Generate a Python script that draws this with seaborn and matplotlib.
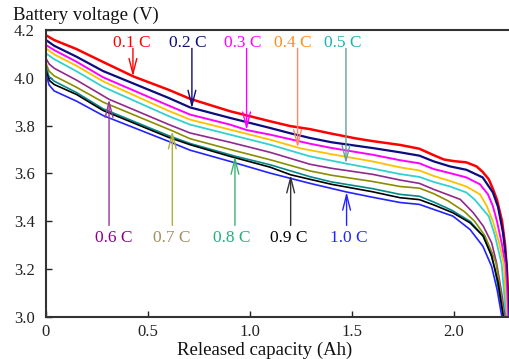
import matplotlib
matplotlib.use("Agg")
import matplotlib.pyplot as plt
import seaborn as sns
import pandas as pd

# ---------------- data ----------------
rates = ["0.1 C", "0.2 C", "0.3 C", "0.4 C", "0.5 C",
         "0.6 C", "0.7 C", "0.8 C", "0.9 C", "1.0 C"]

cap_01 = [0, 0.04, 0.15, 0.28, 0.43, 0.6, 0.706, 0.902, 1.098, 1.196, 1.294, 1.4, 1.52, 1.6,
          1.735, 1.83, 1.9, 1.95, 2.0, 2.06, 2.11, 2.14, 2.17, 2.19, 2.21, 2.235, 2.25, 2.26,
          2.265, 2.268]
v_01 = [4.178, 4.158, 4.12, 4.066, 4.005, 3.950, 3.912, 3.860, 3.818, 3.798, 3.785, 3.766, 3.746,
        3.735, 3.719, 3.703, 3.676, 3.658, 3.651, 3.646, 3.629, 3.606, 3.575, 3.535, 3.49, 3.40,
        3.30, 3.18, 3.08, 3.0]

cap_02 = [0, 0.04, 0.15, 0.28, 0.6, 0.706, 0.902, 1.098, 1.196, 1.294, 1.4, 1.6, 1.735, 1.83,
          1.9, 1.98, 2.06, 2.14, 2.19, 2.215, 2.24, 2.257, 2.262, 2.265]
v_02 = [4.158, 4.134, 4.088, 4.028, 3.916, 3.876, 3.832, 3.790, 3.768, 3.748, 3.730, 3.706,
        3.688, 3.674, 3.650, 3.629, 3.615, 3.583, 3.52, 3.46, 3.35, 3.22, 3.10, 3.0]

cap_03 = [0, 0.04, 0.15, 0.28, 0.6, 0.706, 0.902, 0.985, 1.098, 1.294, 1.4, 1.6, 1.735, 1.83,
          1.9, 1.98, 2.06, 2.127, 2.166, 2.19, 2.21, 2.235, 2.25, 2.258, 2.262]
v_03 = [4.137, 4.116, 4.067, 4.002, 3.884, 3.846, 3.804, 3.781, 3.762, 3.724, 3.706, 3.678,
        3.655, 3.642, 3.618, 3.601, 3.583, 3.554, 3.512, 3.463, 3.40, 3.30, 3.22, 3.10, 3.0]

cap_04 = [0, 0.04, 0.15, 0.28, 0.6, 0.706, 0.902, 1.098, 1.25, 1.4, 1.6, 1.735, 1.83, 1.9,
          1.98, 2.06, 2.127, 2.16, 2.19, 2.22, 2.244, 2.252, 2.257]
v_04 = [4.123, 4.098, 4.05, 3.985, 3.862, 3.825, 3.783, 3.741, 3.704, 3.680, 3.650, 3.625,
        3.612, 3.589, 3.568, 3.545, 3.512, 3.463, 3.40, 3.31, 3.22, 3.10, 3.0]

cap_05 = [0, 0.04, 0.15, 0.28, 0.6, 0.706, 0.902, 1.098, 1.294, 1.47, 1.6, 1.735, 1.83, 1.9,
          1.98, 2.06, 2.10, 2.17, 2.2, 2.233, 2.245, 2.254]
v_05 = [4.102, 4.078, 4.027, 3.962, 3.840, 3.804, 3.762, 3.720, 3.671, 3.641, 3.620, 3.597,
        3.585, 3.564, 3.545, 3.52, 3.491, 3.42, 3.34, 3.22, 3.10, 3.0]

cap_06 = [0, 0.015, 0.04, 0.15, 0.309, 0.6, 0.706, 0.902, 1.098, 1.294, 1.4, 1.6, 1.735, 1.83,
          1.9, 2.03, 2.094, 2.143, 2.184, 2.208, 2.233, 2.249]
v_06 = [4.081, 4.058, 4.040, 3.990, 3.910, 3.805, 3.769, 3.730, 3.688, 3.638, 3.621, 3.596,
        3.572, 3.558, 3.533, 3.491, 3.435, 3.379, 3.309, 3.225, 3.099, 3.0]

cap_07 = [0, 0.015, 0.04, 0.15, 0.28, 0.619, 0.706, 0.902, 1.098, 1.294, 1.4, 1.6, 1.735, 1.83,
          1.9, 1.97, 2.05, 2.1, 2.15, 2.185, 2.205, 2.225, 2.244]
v_07 = [4.06, 4.028, 4.008, 3.960, 3.898, 3.778, 3.745, 3.700, 3.657, 3.610, 3.592, 3.566,
        3.545, 3.538, 3.515, 3.485, 3.44, 3.40, 3.34, 3.27, 3.225, 3.12, 3.0]

cap_08 = [0, 0.015, 0.04, 0.15, 0.28, 0.6, 0.706, 0.926, 1.098, 1.294, 1.4, 1.6, 1.735, 1.83,
          1.9, 1.99, 2.08, 2.14, 2.18, 2.2, 2.22, 2.24]
v_08 = [4.046, 4.005, 3.986, 3.938, 3.870, 3.758, 3.725, 3.672, 3.636, 3.586, 3.564, 3.536,
        3.512, 3.504, 3.480, 3.445, 3.398, 3.34, 3.265, 3.20, 3.10, 3.0]

cap_09 = [0, 0.015, 0.04, 0.15, 0.28, 0.6, 0.706, 0.902, 1.098, 1.199, 1.294, 1.4, 1.6, 1.735,
          1.83, 1.9, 1.994, 2.078, 2.143, 2.184, 2.216, 2.241]
v_09 = [4.031, 3.990, 3.972, 3.930, 3.863, 3.751, 3.720, 3.671, 3.626, 3.594, 3.575, 3.554,
        3.523, 3.498, 3.490, 3.468, 3.435, 3.393, 3.337, 3.253, 3.141, 3.0]

cap_10 = [0, 0.015, 0.04, 0.15, 0.28, 0.6, 0.706, 0.902, 1.098, 1.294, 1.473, 1.6, 1.735, 1.83,
          1.9, 1.994, 2.078, 2.141, 2.184, 2.211, 2.234]
v_10 = [4.017, 3.970, 3.945, 3.902, 3.842, 3.734, 3.697, 3.650, 3.601, 3.558, 3.522, 3.500,
        3.478, 3.470, 3.449, 3.421, 3.365, 3.295, 3.21, 3.112, 3.0]

caps = [cap_01, cap_02, cap_03, cap_04, cap_05, cap_06, cap_07, cap_08, cap_09, cap_10]
volts = [v_01, v_02, v_03, v_04, v_05, v_06, v_07, v_08, v_09, v_10]

# arrow tips on the curves (capacity, voltage)
tip_cap = [0.426, 0.715, 0.983, 1.233, 1.47, 0.309, 0.619, 0.926, 1.199, 1.473]
tip_v = [4.005, 3.872, 3.781, 3.707, 3.641, 3.910, 3.778, 3.672, 3.594, 3.522]

x_ticks = [0, 0.5, 1.0, 1.5, 2.0]
x_tick_labels = ["0", "0.5", "1.0", "1.5", "2.0"]
y_ticks = [3.0, 3.2, 3.4, 3.6, 3.8, 4.0, 4.2]
y_tick_labels = ["3.0", "3.2", "3.4", "3.6", "3.8", "4.0", "4.2"]

# ---------------- styles ----------------
line_colors = ["#ff0000", "#0c0c80", "#ff00ff", "#ffc000", "#33d0d0",
               "#8e2a8e", "#8c8c00", "#008a8a", "#000000", "#2424ff"]
line_widths = [1.8, 1.6, 1.4, 1.3, 1.3, 1.2, 1.2, 1.2, 1.2, 1.2]
label_colors = ["#ff0000", "#0c0c80", "#ff00ff", "#ff8c1a", "#1fb0b0",
                "#8b008b", "#a08f60", "#22b07a", "#000000", "#2424ff"]
arrow_colors = ["#ff0000", "#0c0c80", "#ff00ff", "#ff8a65", "#6a9fa0",
                "#993399", "#b0b040", "#3cb371", "#333333", "#2424ff"]
label_x = [0.421, 0.696, 0.965, 1.21, 1.455, 0.333, 0.617, 0.911, 1.19, 1.485]
top_row = [True, True, True, True, True, False, False, False, False, False]

sns.set_style("ticks")
plt.rcParams["font.family"] = ["Liberation Serif", "DejaVu Serif"]

rows = []
for r, c, v in zip(rates, caps, volts):
    for ci, vi in zip(c, v):
        rows.append({"rate": r, "cap": ci, "volt": vi})
df = pd.DataFrame(rows)

fig = plt.figure(figsize=(5.09, 3.59), dpi=100)
ax = fig.add_axes([46 / 509, 1 - 316.7 / 359, (509 - 46) / 509, (316.7 - 30) / 359])

sns.lineplot(data=df, x="cap", y="volt", hue="rate", hue_order=rates,
             palette=dict(zip(rates, line_colors)), sort=False, estimator=None,
             legend=False, ax=ax)
for ln, lw in zip(ax.lines, line_widths):
    ln.set_linewidth(lw)
    ln.set_solid_capstyle("round")
    ln.set_solid_joinstyle("round")

ax.set_xlim(0, 2.269)
ax.set_ylim(3.0, 4.2)
ax.set_xticks(x_ticks)
ax.set_xticklabels(x_tick_labels)
ax.set_yticks(y_ticks)
ax.set_yticklabels(y_tick_labels)
ax.set_xlabel("")
ax.set_ylabel("")
ax.tick_params(direction="in", length=4, width=1, labelsize=12,
               colors="#222222", pad=8)
ax.tick_params(axis="x", pad=5)

for s in ["left", "bottom", "top"]:
    ax.spines[s].set_visible(True)
    ax.spines[s].set_color("#333333")
    ax.spines[s].set_linewidth(1.5)
ax.spines["right"].set_visible(False)

# rate labels and arrows
for i in range(len(rates)):
    if top_row[i]:
        ty, tail = 4.145, 4.123
    else:
        ty, tail = 3.330, 3.382
    ax.text(label_x[i], ty, rates[i], ha="center", va="center",
            fontsize=12.5, color=label_colors[i])
    ax.annotate("", xy=(tip_cap[i], tip_v[i]), xytext=(tip_cap[i], tail),
                arrowprops=dict(arrowstyle="->,head_length=1.1,head_width=0.28",
                                color=arrow_colors[i], lw=1.0, mutation_scale=10,
                                shrinkA=0, shrinkB=0))

fig.text(13 / 509, 1 - 15 / 359, "Battery voltage (V)", ha="left", va="center",
         fontsize=13.5, color="#111111")
fig.text(265 / 509, 1 - 350 / 359, "Released capacity (Ah)", ha="center", va="center",
         fontsize=13.5, color="#111111")

fig.savefig("out.png", dpi=100)
